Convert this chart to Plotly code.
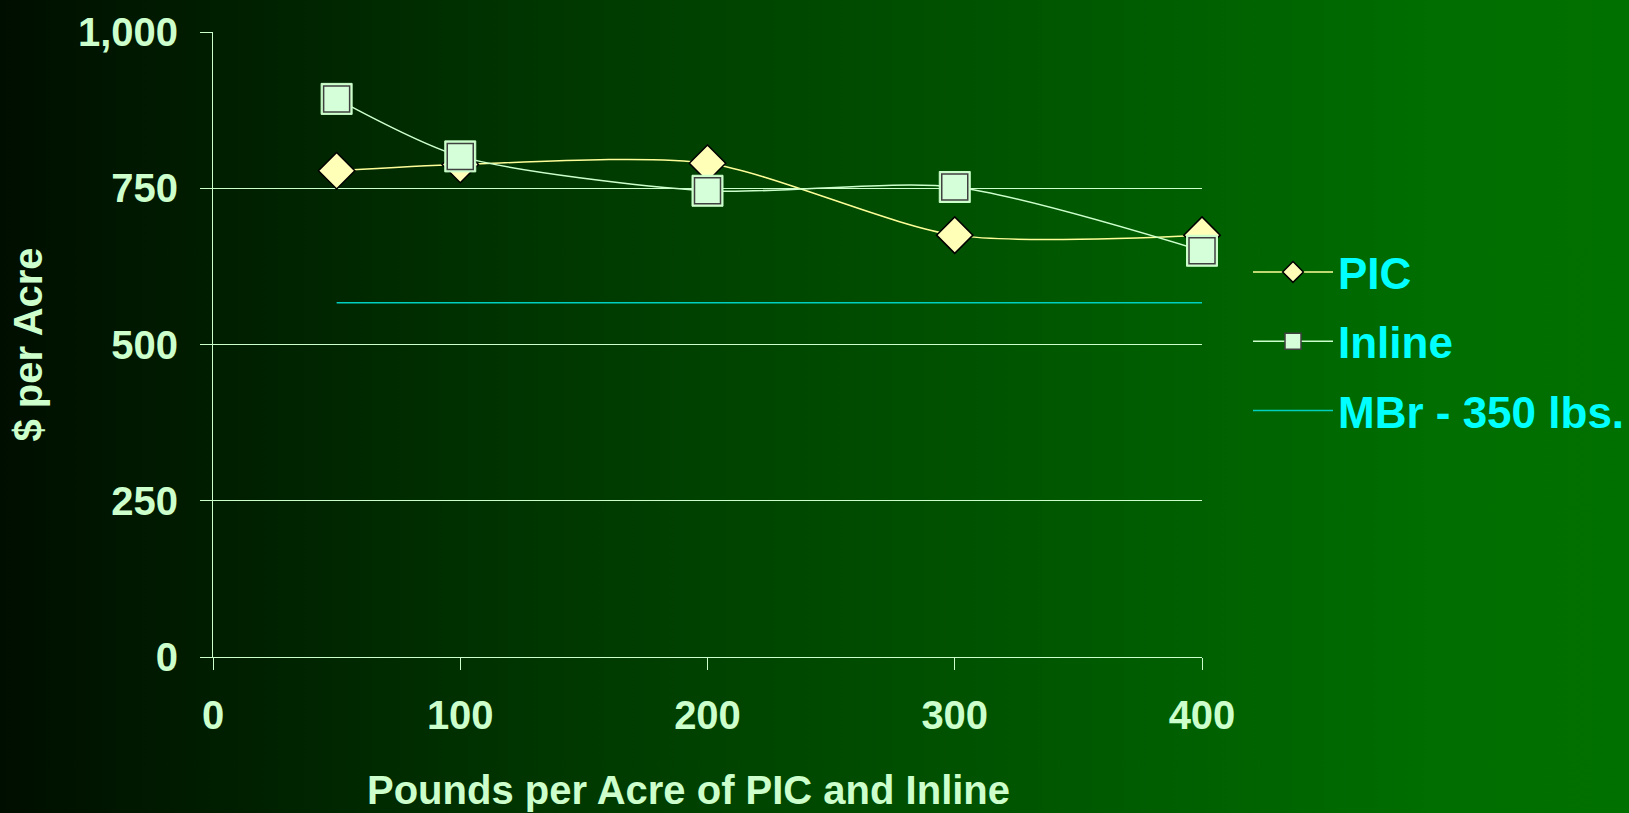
import base64
import plotly.graph_objects as go

# ---- data ----
pounds = [50, 100, 200, 300, 400]
pic_values = [778, 788, 790, 675, 675]
inline_values = [893, 801, 746, 752, 650]
mbr_values = [567, 567, 567, 567, 567]
y_ticks = [0, 250, 500, 750, 1000]
x_ticks = [0, 100, 200, 300, 400]

W, H = 1629, 813
L, R, T, B = 213, 427, 32, 156
pw, ph = W - L - R, H - T - B

pale = "#CCFFCC"
font_family = "Liberation Sans, Arial, sans-serif"

svg = (
    '<svg xmlns="http://www.w3.org/2000/svg" width="1629" height="813">'
    '<defs><linearGradient id="g" x1="0" y1="0" x2="1" y2="0">'
    '<stop offset="0" stop-color="#000E00"/>'
    '<stop offset="0.45" stop-color="#004400"/>'
    '<stop offset="0.88" stop-color="#006E00"/>'
    '<stop offset="1" stop-color="#007000"/>'
    '</linearGradient></defs>'
    '<rect width="1629" height="813" fill="url(#g)"/></svg>'
)
bg_uri = "data:image/svg+xml;base64," + base64.b64encode(svg.encode()).decode()

fig = go.Figure()

fig.add_trace(go.Scatter(
    x=pounds, y=pic_values, name="PIC", mode="lines+markers",
    legendgroup="pic",
    line=dict(color="#FFFF99", width=1.5, shape="spline", smoothing=0.75),
    marker=dict(symbol="diamond", size=28, color="#FFFFB8",
                line=dict(color="#000000", width=1.5)),
    cliponaxis=False,
))
fig.add_trace(go.Scatter(
    x=pounds, y=inline_values, name="Inline", mode="markers",
    legendgroup="inline",
    marker=dict(symbol="square", size=31, color=pale,
                line=dict(color=pale, width=1)),
    cliponaxis=False, showlegend=False, hoverinfo="skip",
))
fig.add_trace(go.Scatter(
    x=pounds, y=inline_values, name="Inline", mode="lines+markers",
    legendgroup="inline",
    line=dict(color=pale, width=1.5, shape="spline", smoothing=0.75),
    marker=dict(symbol="square", size=26, color="#D4FFD8",
                line=dict(color="#404040", width=1.5)),
    cliponaxis=False,
))
fig.add_trace(go.Scatter(
    x=pounds, y=mbr_values, name="MBr - 350 lbs.", mode="lines",
    legendgroup="mbr",
    line=dict(color="#00D0C0", width=1.5),
    cliponaxis=False,
))

fig.update_layout(
    width=W, height=H,
    margin=dict(l=L, r=R, t=T, b=B, autoexpand=False),
    paper_bgcolor="#003800",
    plot_bgcolor="rgba(0,0,0,0)",
    font=dict(family=font_family, color=pale, size=40, weight="bold"),
    images=[dict(
        source=bg_uri, xref="paper", yref="paper",
        x=-L / pw, y=1 + T / ph, sizex=W / pw, sizey=H / ph,
        xanchor="left", yanchor="top", sizing="stretch", layer="below",
    )],
    showlegend=True,
    legend=dict(
        x=(1248 - L) / pw, xanchor="left",
        y=0.505, yanchor="middle",
        font=dict(family=font_family, size=44, color="#00FFFF", weight="bold"),
        bgcolor="rgba(0,0,0,0)",
        itemwidth=80,
        traceorder="grouped",
        tracegroupgap=9,
    ),
    xaxis=dict(
        range=[0, 400], tickvals=x_ticks, showgrid=False, zeroline=False,
        showline=True, linecolor=pale, linewidth=1,
        ticks="outside", ticklen=12, tickcolor=pale, tickwidth=1,
        ticklabelstandoff=11,
        tickfont=dict(size=40, color=pale),
    ),
    yaxis=dict(
        range=[0, 1000], tickvals=y_ticks, tickformat=",",
        showgrid=True, gridcolor=pale, gridwidth=1, zeroline=False,
        showline=True, linecolor=pale, linewidth=1,
        ticks="outside", ticklen=12, tickcolor=pale, tickwidth=1,
        ticklabelstandoff=14,
        tickfont=dict(size=40, color=pale),
        title=dict(text="$ per Acre", font=dict(size=40, color=pale), standoff=22),
    ),
    annotations=[dict(
        text="Pounds per Acre of PIC and Inline",
        xref="paper", yref="paper",
        x=(688 - L) / pw, y=-(790 - (H - B)) / ph,
        xanchor="center", yanchor="middle", showarrow=False,
        font=dict(family=font_family, size=40, color=pale, weight="bold"),
    )],
)

fig.write_html("out.html")
